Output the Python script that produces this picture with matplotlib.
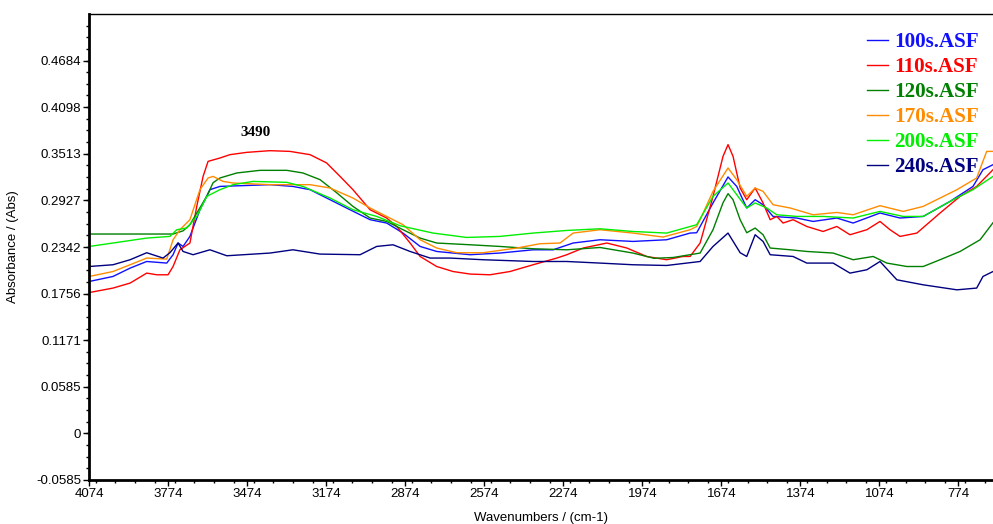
import numpy as np
import matplotlib.pyplot as plt
from matplotlib.ticker import MultipleLocator, FixedLocator

# spectra (wavenumber cm-1, absorbance)
wn_100 = [4074, 3984, 3919, 3856, 3780, 3756, 3737, 3718, 3692, 3654, 3616, 3578, 3388, 3301, 3236, 3160,
          3084, 3008, 2945, 2883, 2818, 2755, 2628, 2515, 2389, 2313, 2237, 2135, 2010, 1882, 1793, 1768,
          1706, 1649, 1616, 1578, 1546, 1516, 1478, 1388, 1326, 1236, 1174, 1072, 996, 908, 806, 719, 681, 643]
abs_100 = [0.1909, 0.1972, 0.2077, 0.2160, 0.2140, 0.2245, 0.2392, 0.2349, 0.2475, 0.2810, 0.3062, 0.3103,
           0.3125, 0.3103, 0.3062, 0.2936, 0.2810, 0.2685, 0.2643, 0.2517, 0.2349, 0.2286, 0.2245, 0.2266,
           0.2307, 0.2307, 0.2392, 0.2433, 0.2412, 0.2433, 0.2517, 0.2521, 0.2895, 0.3222, 0.3103, 0.2832,
           0.2936, 0.2873, 0.2726, 0.2706, 0.2663, 0.2706, 0.2643, 0.2769, 0.2706, 0.2726, 0.2915, 0.3103,
           0.3313, 0.3376]

wn_110 = [4074, 3984, 3919, 3856, 3818, 3775, 3756, 3730, 3692, 3666, 3642, 3623, 3578, 3540, 3476, 3388,
          3312, 3236, 3173, 3122, 3073, 3008, 2945, 2907, 2856, 2818, 2755, 2693, 2628, 2553, 2477, 2389,
          2299, 2261, 2199, 2109, 2033, 1958, 1882, 1820, 1793, 1755, 1744, 1706, 1668, 1649, 1630, 1603,
          1578, 1546, 1516, 1489, 1464, 1440, 1402, 1350, 1288, 1236, 1186, 1122, 1072, 1034, 996, 932,
          844, 768, 705, 643]
abs_110 = [0.1770, 0.1826, 0.1889, 0.2014, 0.1993, 0.1993, 0.2097, 0.2307, 0.2392, 0.2852, 0.3229, 0.3418,
           0.3460, 0.3502, 0.3531, 0.3552, 0.3543, 0.3502, 0.3398, 0.3229, 0.3062, 0.2810, 0.2706, 0.2600,
           0.2392, 0.2223, 0.2097, 0.2034, 0.2002, 0.1993, 0.2034, 0.2119, 0.2203, 0.2245, 0.2329, 0.2392,
           0.2329, 0.2223, 0.2182, 0.2223, 0.2223, 0.2392, 0.2521, 0.2978, 0.3481, 0.3628, 0.3481, 0.3083,
           0.2936, 0.3083, 0.2895, 0.2685, 0.2726, 0.2643, 0.2685, 0.2600, 0.2537, 0.2600, 0.2496, 0.2559,
           0.2663, 0.2559, 0.2475, 0.2517, 0.2769, 0.2978, 0.3103, 0.3313]

wn_120 = [4074, 3756, 3718, 3692, 3666, 3628, 3604, 3578, 3514, 3426, 3324, 3263, 3198, 3135, 3073, 3008,
          2945, 2883, 2818, 2755, 2628, 2515, 2389, 2261, 2135, 2010, 1930, 1858, 1755, 1706, 1668, 1649,
          1630, 1603, 1578, 1546, 1516, 1489, 1413, 1350, 1250, 1174, 1098, 1046, 970, 908, 844, 768, 692, 643]
abs_120 = [0.2505, 0.2505, 0.2545, 0.2622, 0.2769, 0.2978, 0.3150, 0.3209, 0.3272, 0.3305, 0.3305, 0.3272,
           0.3188, 0.3024, 0.2852, 0.2706, 0.2663, 0.2559, 0.2454, 0.2392, 0.2370, 0.2349, 0.2320, 0.2307,
           0.2336, 0.2266, 0.2200, 0.2210, 0.2266, 0.2559, 0.2898, 0.3012, 0.2936, 0.2685, 0.2521, 0.2580,
           0.2496, 0.2329, 0.2307, 0.2286, 0.2266, 0.2182, 0.2223, 0.2140, 0.2097, 0.2097, 0.2182, 0.2286,
           0.2433, 0.2647]

wn_170 = [4074, 3984, 3919, 3856, 3780, 3756, 3730, 3692, 3654, 3623, 3604, 3566, 3528, 3388, 3236, 3160,
          3073, 3008, 2945, 2883, 2818, 2755, 2679, 2579, 2451, 2363, 2287, 2237, 2135, 2010, 1896, 1793,
          1768, 1755, 1706, 1649, 1616, 1578, 1546, 1516, 1478, 1413, 1326, 1236, 1174, 1072, 984, 908,
          780, 705, 667, 643]
abs_170 = [0.1972, 0.2034, 0.2119, 0.2203, 0.2190, 0.2433, 0.2559, 0.2685, 0.3062, 0.3209, 0.3229, 0.3166,
           0.3146, 0.3125, 0.3125, 0.3083, 0.2957, 0.2832, 0.2726, 0.2622, 0.2433, 0.2329, 0.2270, 0.2270,
           0.2329, 0.2383, 0.2392, 0.2517, 0.2559, 0.2517, 0.2467, 0.2559, 0.2600, 0.2685, 0.3041, 0.3335,
           0.3188, 0.2978, 0.3083, 0.3041, 0.2873, 0.2832, 0.2747, 0.2776, 0.2747, 0.2861, 0.2789, 0.2852,
           0.3062, 0.3209, 0.3543, 0.3543]

wn_200 = [4074, 3984, 3856, 3768, 3742, 3704, 3666, 3628, 3578, 3528, 3452, 3324, 3263, 3160, 3073, 2983,
          2894, 2769, 2641, 2515, 2389, 2261, 2135, 2010, 1882, 1768, 1706, 1649, 1616, 1578, 1546, 1502,
          1464, 1388, 1288, 1174, 1072, 984, 908, 794, 719, 643]
abs_200 = [0.2349, 0.2392, 0.2454, 0.2475, 0.2559, 0.2580, 0.2726, 0.2978, 0.3062, 0.3125, 0.3166, 0.3154,
           0.3103, 0.2957, 0.2810, 0.2726, 0.2609, 0.2517, 0.2462, 0.2475, 0.2517, 0.2550, 0.2571, 0.2537,
           0.2517, 0.2622, 0.2978, 0.3146, 0.2999, 0.2832, 0.2895, 0.2832, 0.2747, 0.2726, 0.2726, 0.2706,
           0.2789, 0.2726, 0.2726, 0.2936, 0.3062, 0.3229]

wn_240 = [4074, 3984, 3919, 3856, 3794, 3768, 3737, 3718, 3680, 3616, 3552, 3388, 3301, 3198, 3046, 2983,
          2921, 2856, 2780, 2704, 2579, 2389, 2261, 2135, 2010, 1882, 1755, 1706, 1649, 1603, 1578, 1546,
          1516, 1489, 1402, 1350, 1250, 1186, 1122, 1072, 1008, 908, 780, 705, 681, 643]
abs_240 = [0.2097, 0.2119, 0.2182, 0.2270, 0.2203, 0.2270, 0.2392, 0.2286, 0.2245, 0.2307, 0.2232, 0.2266,
           0.2307, 0.2253, 0.2245, 0.2349, 0.2370, 0.2286, 0.2203, 0.2203, 0.2182, 0.2160, 0.2160, 0.2140,
           0.2119, 0.2110, 0.2160, 0.2349, 0.2517, 0.2270, 0.2223, 0.2496, 0.2412, 0.2245, 0.2223, 0.2140,
           0.2140, 0.2014, 0.2056, 0.2160, 0.1930, 0.1867, 0.1804, 0.1826, 0.1972, 0.2034]

labels = ['100s.ASF', '110s.ASF', '120s.ASF', '170s.ASF', '200s.ASF', '240s.ASF']
colors = ['#1010ff', '#ff0000', '#008000', '#ff8c00', '#00ee00', '#000080']
series = [(wn_100, abs_100), (wn_110, abs_110), (wn_120, abs_120),
          (wn_170, abs_170), (wn_200, abs_200), (wn_240, abs_240)]

y_ticks = [-0.0585, 0, 0.0585, 0.1171, 0.1756, 0.2342, 0.2927, 0.3513, 0.4098, 0.4684]
x_ticks = [4074, 3774, 3474, 3174, 2874, 2574, 2274, 1974, 1674, 1374, 1074, 774]

fig = plt.figure(figsize=(9.93, 5.24), dpi=100)
ax = fig.add_axes([89.3 / 993, 44 / 524, (993 - 89.3) / 993, 466 / 524])

for (x, y), lab, c in zip(series, labels, colors):
    ax.plot(x, y, color=c, lw=1.0, label=lab)

ax.set_xlim(4074, 643)
ax.set_ylim(-0.0585, 0.5269)

ax.set_xticks(x_ticks)
ax.set_xticklabels([str(t) for t in x_ticks])
ax.xaxis.set_minor_locator(MultipleLocator(75))
ax.set_yticks(y_ticks)
ax.set_yticklabels([str(t) for t in y_ticks])
ax.yaxis.set_minor_locator(FixedLocator(np.arange(-0.0585, 0.527, 0.05855 / 4)))

ax.tick_params(which='major', direction='out', length=4, width=1, labelsize=9.5, pad=2)
ax.tick_params(which='minor', direction='out', length=2.5, width=1)
for lab in ax.get_xticklabels() + ax.get_yticklabels():
    lab.set_family('Liberation Sans')

ax.spines['left'].set_linewidth(2)
ax.spines['bottom'].set_linewidth(2)
ax.spines['top'].set_linewidth(1)
ax.spines['right'].set_visible(False)

ax.set_xlabel('Wavenumbers / (cm-1)', fontsize=9.5, family='Liberation Sans')
ax.set_ylabel('Absorbance / (Abs)', fontsize=9.5, family='Liberation Sans')
ax.xaxis.set_label_coords(0.5, -0.069)
ax.yaxis.set_label_coords(-0.078, 0.5)

ax.text(3441, 0.378, '3490', fontsize=11, fontweight='bold', family='Liberation Serif',
        ha='center', va='center')

ax.legend(loc='upper right', bbox_to_anchor=(979 / 993, 1 - 32 / 524), bbox_transform=fig.transFigure,
          frameon=False, labelcolor='linecolor', handlelength=1.0, handletextpad=0.3,
          labelspacing=0.24, borderpad=0, borderaxespad=0,
          prop={'family': 'Liberation Serif', 'weight': 'bold', 'size': 15.2})

plt.savefig('out.png', dpi=100)
plt.close()
